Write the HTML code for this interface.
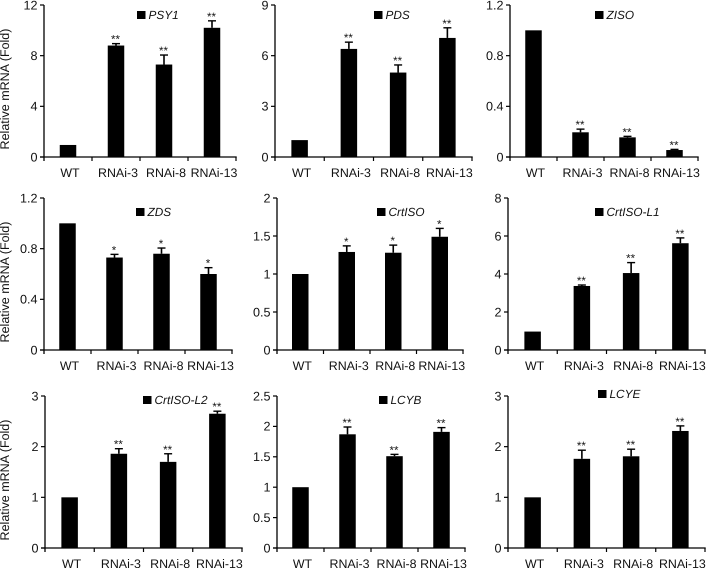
<!DOCTYPE html>
<html lang="en">
<head>
<meta charset="utf-8">
<title>Relative mRNA levels of carotenoid genes</title>
<style>
  html, body { margin: 0; padding: 0; background: #fff; }
  body { width: 707px; height: 568px; overflow: hidden; }
  svg { display: block; filter: blur(0.3px); }
  text { font-family: "Liberation Sans", Arial, sans-serif; fill: #111; text-rendering: geometricPrecision; }
</style>
</head>
<body>
<svg id="figure" xmlns="http://www.w3.org/2000/svg" width="707" height="568" viewBox="0 0 707 568"></svg>
<script>
const categories = ['WT', 'RNAi-3', 'RNAi-8', 'RNAi-13'];

const psy1Values = [0.95, 8.8, 7.3, 10.2];
const psy1Errors = [0, 0.15, 0.75, 0.55];
const psy1Stars = ['', '**', '**', '**'];
const psy1Ticks = ['0', '4', '8', '12'];

const pdsValues = [1, 6.4, 5.0, 7.05];
const pdsErrors = [0, 0.4, 0.45, 0.6];
const pdsStars = ['', '**', '**', '**'];
const pdsTicks = ['0', '3', '6', '9'];

const zisoValues = [1, 0.195, 0.155, 0.055];
const zisoErrors = [0, 0.025, 0.008, 0.005];
const zisoStars = ['', '**', '**', '**'];
const zisoTicks = ['0', '0.4', '0.8', '1.2'];

const zdsValues = [1, 0.73, 0.76, 0.6];
const zdsErrors = [0, 0.025, 0.045, 0.05];
const zdsStars = ['', '*', '*', '*'];
const zdsTicks = ['0', '0.4', '0.8', '1.2'];

const crtisoValues = [1, 1.29, 1.28, 1.49];
const crtisoErrors = [0, 0.08, 0.1, 0.11];
const crtisoStars = ['', '*', '*', '*'];
const crtisoTicks = ['0', '0.5', '1', '1.5', '2'];

const crtisoL1Values = [0.97, 3.37, 4.05, 5.62];
const crtisoL1Errors = [0, 0.05, 0.55, 0.28];
const crtisoL1Stars = ['', '**', '**', '**'];
const crtisoL1Ticks = ['0', '2', '4', '6', '8'];

const crtisoL2Values = [1, 1.86, 1.7, 2.65];
const crtisoL2Errors = [0, 0.1, 0.16, 0.05];
const crtisoL2Stars = ['', '**', '**', '**'];
const crtisoL2Ticks = ['0', '1', '2', '3'];

const lcybValues = [1, 1.87, 1.51, 1.91];
const lcybErrors = [0, 0.12, 0.03, 0.07];
const lcybStars = ['', '**', '**', '**'];
const lcybTicks = ['0', '0.5', '1', '1.5', '2', '2.5'];

const lcyeValues = [1, 1.76, 1.81, 2.31];
const lcyeErrors = [0, 0.17, 0.14, 0.1];
const lcyeStars = ['', '**', '**', '**'];
const lcyeTicks = ['0', '1', '2', '3'];

const SVG_NS = 'http://www.w3.org/2000/svg';
const figure = document.getElementById('figure');

function make(parent, tag, attrs, content) {
  const el = document.createElementNS(SVG_NS, tag);
  for (const key in attrs) el.setAttribute(key, attrs[key]);
  if (content !== undefined) el.textContent = content;
  parent.appendChild(el);
  return el;
}

function drawPanel(gene, values, errors, stars, ticks, box, legend) {
  const maxValue = parseFloat(ticks[ticks.length - 1]);
  const yScale = v => box.bottom - (v / maxValue) * (box.bottom - box.top);
  const step = (box.right - box.left) / categories.length;
  const xScale = i => box.left + step * (i + 0.5);

  const panel = make(figure, 'g', {});
  
  

  values.forEach((value, i) => {
    const cx = xScale(i);
    const bar = make(panel, 'rect', { x: cx - 8.25, y: yScale(value), width: 16.5, height: box.bottom - yScale(value), fill: '#000' });
    
    

    if (errors[i] > 0) {
      const errTop = yScale(value + errors[i]);
      const stem = make(panel, 'line', { x1: cx, x2: cx, y1: yScale(value), y2: errTop, stroke: '#000', 'stroke-width': 1.6 });
      
      
      const cap = make(panel, 'line', { x1: cx - 4, x2: cx + 4, y1: errTop, y2: errTop, stroke: '#000', 'stroke-width': 1.4 });
      
      
    }

    if (stars[i]) {
      const starY = yScale(value + errors[i]) - 0.5;
      const star = make(panel, 'text', { x: cx - 0.5, y: starY, 'text-anchor': 'middle', 'font-size': 11.5 }, stars[i]);
      
      
    }

    const label = make(panel, 'text', { x: cx + 2, y: box.bottom + 20, 'text-anchor': 'middle', 'font-size': 12.4 }, categories[i]);
    
    
  });

  const xAxis = make(panel, 'line', { x1: box.left - 4, x2: box.right + 0.7, y1: box.bottom, y2: box.bottom, stroke: '#000', 'stroke-width': 1.3 });
  
  
  const yAxis = make(panel, 'line', { x1: box.left, x2: box.left, y1: box.top, y2: box.bottom + 4, stroke: '#000', 'stroke-width': 1.3 });
  
  

  for (let i = 1; i <= categories.length; i++) {
    const tx = box.left + step * i;
    const xTick = make(panel, 'line', { x1: tx, x2: tx, y1: box.bottom, y2: box.bottom + 4, stroke: '#000', 'stroke-width': 1.2 });
    
    
  }

  ticks.forEach(tick => {
    const ty = yScale(parseFloat(tick));
    const yTick = make(panel, 'line', { x1: box.left - 4, x2: box.left, y1: ty, y2: ty, stroke: '#000', 'stroke-width': 1.2 });
    
    
    const yLabel = make(panel, 'text', { x: box.left - 6.5, y: ty + 4.3, 'text-anchor': 'end', 'font-size': 12.6 }, tick);
    
    
  });

  const swatch = make(panel, 'rect', { x: legend.x, y: legend.y - 4, width: 8.5, height: 8, fill: '#000' });
  
  
  const legendText = make(panel, 'text', { x: legend.x + 11.5, y: legend.y + 4, 'font-size': 11.8, 'font-style': 'italic' }, gene);
  
  

  if (box.titleY) {
    const title = make(panel, 'text', { x: 0, y: 0, 'text-anchor': 'middle', 'font-size': 12.5, transform: 'translate(9 ' + box.titleY + ') rotate(-90)' }, 'Relative mRNA (Fold)');
    
    
  }
}

drawPanel('PSY1', psy1Values, psy1Errors, psy1Stars, psy1Ticks, { left: 44, right: 236, top: 5, bottom: 157, titleY: 89 }, { x: 137, y: 15 });
drawPanel('PDS', pdsValues, pdsErrors, pdsStars, pdsTicks, { left: 275, right: 472, top: 5, bottom: 157 }, { x: 374, y: 15 });
drawPanel('ZISO', zisoValues, zisoErrors, zisoStars, zisoTicks, { left: 510, right: 698, top: 5, bottom: 157 }, { x: 595, y: 15 });
drawPanel('ZDS', zdsValues, zdsErrors, zdsStars, zdsTicks, { left: 44, right: 232, top: 198, bottom: 350, titleY: 282 }, { x: 136, y: 212 });
drawPanel('CrtISO', crtisoValues, crtisoErrors, crtisoStars, crtisoTicks, { left: 277, right: 463, top: 198, bottom: 350 }, { x: 377, y: 212 });
drawPanel('CrtISO-L1', crtisoL1Values, crtisoL1Errors, crtisoL1Stars, crtisoL1Ticks, { left: 508, right: 705, top: 198, bottom: 350 }, { x: 595, y: 212 });
drawPanel('CrtISO-L2', crtisoL2Values, crtisoL2Errors, crtisoL2Stars, crtisoL2Ticks, { left: 45, right: 242, top: 396, bottom: 548, titleY: 480 }, { x: 143, y: 400 });
drawPanel('LCYB', lcybValues, lcybErrors, lcybStars, lcybTicks, { left: 277, right: 465, top: 396, bottom: 548 }, { x: 379, y: 400 });
drawPanel('LCYE', lcyeValues, lcyeErrors, lcyeStars, lcyeTicks, { left: 508, right: 705, top: 396, bottom: 548 }, { x: 598, y: 394 });
</script>
</body>
</html>
